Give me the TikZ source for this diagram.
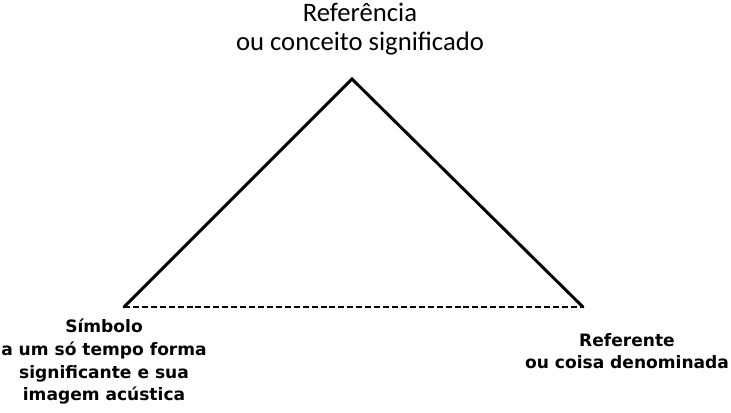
\documentclass[tikz,border=0pt]{standalone}
\usepackage{fontspec}
\setmainfont{Carlito}
\newfontfamily\vfont{DejaVu Sans}
\usetikzlibrary{positioning}
\tikzset{
  toplabel/.style={align=center, font=\fontsize{20pt}{22pt}\selectfont, inner sep=0pt},
  botlabel/.style={align=center, font=\vfont\bfseries\fontsize{12.8pt}{17pt}\selectfont, inner sep=0pt},
  side/.style={line width=2.2pt, line cap=round},
  base/.style={line width=1.4pt, dash pattern=on 4.5pt off 2.2pt}
}
\begin{document}
\begin{tikzpicture}[x=0.75pt, y=-0.75pt]
  \useasboundingbox (0,0) rectangle (731,412);
  % vertices
  \coordinate (apex) at (352,79);
  \coordinate (sym) at (124,307);
  \coordinate (ref) at (583,307);
  \draw[side] (sym) -- (apex) -- (ref);
  \draw[base] (sym) -- (ref);
  % labels
  \node[toplabel] (refer) at (360,29) {Referência\\ ou conceito significado};
  \node[botlabel] (simb) at (104,362) {Símbolo\\a um só tempo forma\\significante e sua\\imagem acústica};
  \node[botlabel] (coisa) at (627,351) {Referente\\ou coisa denominada};
\end{tikzpicture}
\end{document}
